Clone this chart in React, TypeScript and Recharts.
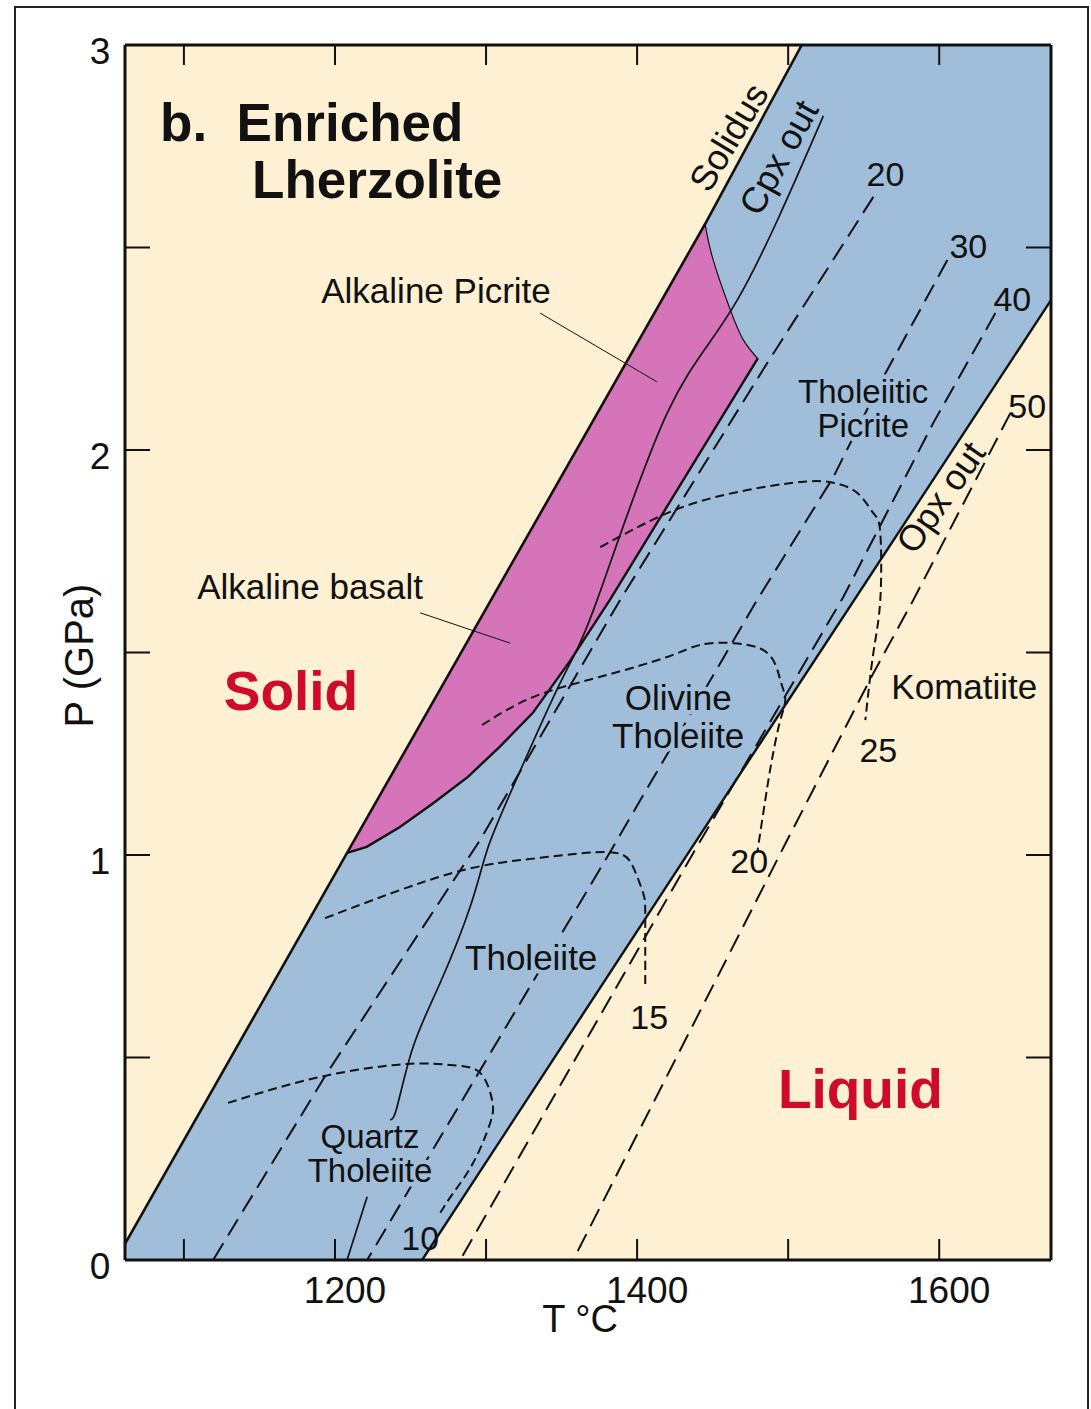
import React from "react";
import {
  ComposedChart,
  Area,
  Line,
  XAxis,
  YAxis,
  ReferenceArea,
  ReferenceDot,
} from "recharts";

const FONT = '"Liberation Sans", Arial, Helvetica, sans-serif';
const INK = "#111";
const CREAM = "#FEF0D2";
const BLUE = "#A0BED9";
const MAGENTA = "#D574B8";
const RED = "#CE0B2D";

// axes (T in °C, P in GPa)
const tDomain = [1061, 1674];
const pDomain = [0, 3];
const tTicks = [1100, 1200, 1300, 1400, 1500, 1600];
const tLabels = [1200, 1400, 1600];
const pTicks = [0, 0.5, 1, 1.5, 2, 2.5, 3];
const pLabels = [0, 1, 2, 3];

// melting field (between solidus and opx-out): [T, Plow, Phigh]
const meltField = [
  [1061, 0, 0.04],
  [1208, 0, 1.005],
  [1258, 0, 1.33],
  [1445, 1.07, 2.558],
  [1509, 1.43, 3.0],
  [1674, 2.37, 3.0],
];

// alkaline basalt / picrite field: [T, Plow, Phigh]
const alkalineField = [
  [1208, 1.005, 1.005],
  [1221, 1.02, 1.09],
  [1243, 1.069, 1.234],
  [1265, 1.128, 1.379],
  [1288, 1.193, 1.529],
  [1309, 1.267, 1.667],
  [1331, 1.351, 1.811],
  [1356, 1.481, 1.975],
  [1382, 1.63, 2.145],
  [1445, 2.015, 2.558],
  [1450, 2.046, 2.469],
  [1462, 2.12, 2.346],
  [1470, 2.169, 2.272],
  [1480, 2.227, 2.227],
];

// boundaries: [T, P]
const solidus = [
  [1061, 0.04],
  [1208, 1.005],
  [1445, 2.558],
  [1509, 3.0],
];
const opxOut = [
  [1257.7, 0],
  [1440, 1.04],
  [1674, 2.37],
];
const alkalineEdge = [
  [1208, 1.005],
  [1221, 1.02],
  [1243, 1.069],
  [1265, 1.128],
  [1288, 1.193],
  [1309, 1.267],
  [1331, 1.351],
  [1356, 1.481],
  [1382, 1.63],
  [1480, 2.227],
];
const picriteTop = [
  [1445, 2.558],
  [1450.4, 2.469],
  [1461.7, 2.346],
  [1470.3, 2.272],
  [1479.5, 2.227],
];
const cpxOutUpper = [
  [1523.3, 2.825],
  [1466.3, 2.37],
  [1419.9, 2.091],
  [1373.6, 1.63],
  [1349.1, 1.425],
  [1317.9, 1.168],
  [1300.7, 1.012],
  [1289.5, 0.872],
  [1269.6, 0.684],
  [1251.7, 0.526],
  [1241.1, 0.378],
  [1236.5, 0.346],
];
const cpxOutLower = [
  [1221.3, 0.156],
  [1208, 0],
];

// % melting isopleths
const melt20 = [
  [1556.4, 2.625],
  [1486.2, 2.215],
  [1388.8, 1.63],
  [1296.1, 1.037],
  [1194.8, 0.462],
  [1119.3, 0],
];
const melt30 = [
  [1605.4, 2.469],
  [1563, 2.18],
  [1529.9, 1.933],
  [1479.5, 1.63],
  [1380.2, 0.995],
  [1221.3, 0],
];
const melt40 = [
  [1637.2, 2.338],
  [1596.1, 2.067],
  [1536.5, 1.637],
  [1437.2, 1.005],
  [1282.9, 0],
];
const melt50 = [
  [1647.1, 2.091],
  [1582.9, 1.63],
  [1556.4, 1.449],
  [1499.4, 1.037],
  [1357.7, 0],
];

// liquid composition field limits
const dome10 = [
  [1129.2, 0.388],
  [1190.1, 0.452],
  [1247.8, 0.484],
  [1278.2, 0.481],
  [1296.1, 0.462],
  [1304, 0.395],
  [1302.7, 0.338],
  [1291.5, 0.24],
  [1278.2, 0.165],
  [1269.6, 0.116],
];
const dome15 = [
  [1193.4, 0.844],
  [1278.2, 0.956],
  [1335.8, 0.993],
  [1382.2, 1.007],
  [1397.4, 0.97],
  [1404, 0.906],
  [1405.4, 0.847],
  [1405.4, 0.674],
];
const dome20 = [
  [1297.4, 1.321],
  [1331.2, 1.39],
  [1375.6, 1.44],
  [1419.9, 1.489],
  [1441.8, 1.519],
  [1463.6, 1.523],
  [1486.2, 1.499],
  [1494.8, 1.432],
  [1498.1, 1.383],
  [1494.8, 1.333],
  [1490.1, 1.252],
  [1486.2, 1.168],
  [1479.5, 1.005],
];
const dome25 = [
  [1375.6, 1.76],
  [1419.9, 1.844],
  [1463.6, 1.894],
  [1508, 1.921],
  [1529.9, 1.919],
  [1545.8, 1.894],
  [1556.4, 1.844],
  [1561, 1.795],
  [1561, 1.63],
  [1556.4, 1.499],
  [1551.1, 1.333],
];

const picriteLeader = [
  [1335.8, 2.338],
  [1413.3, 2.168],
];
const basaltLeader = [
  [1256.4, 1.598],
  [1316, 1.523],
];

const pts = (arr: number[][]) => arr.map(([T, P]) => ({ T, P }));
const range = (arr: number[][]) => arr.map(([T, lo, hi]) => ({ T, r: [lo, hi] }));

type Note = {
  T: number;
  P: number;
  text: string;
  size?: number;
  weight?: number;
  color?: string;
  angle?: number;
  anchor?: string;
  gap?: number;
  halo?: string;
};

const notes: Note[] = [
  { T: 1084.2, P: 2.81, text: "b.  Enriched", size: 53, weight: 700, anchor: "start" },
  { T: 1145.1, P: 2.669, text: "Lherzolite", size: 53, weight: 700, anchor: "start" },
  { T: 1266.9, P: 2.395, text: "Alkaline Picrite" },
  { T: 1183.5, P: 1.664, text: "Alkaline basalt" },
  { T: 1170.9, P: 1.407, text: "Solid", size: 55, weight: 700, color: RED },
  { T: 1547.8, P: 0.425, text: "Liquid", size: 55, weight: 700, color: RED },
  { T: 1549.7, P: 2.104, text: "Tholeiitic\nPicrite", size: 33, gap: 34, halo: BLUE },
  { T: 1427.2, P: 1.343, text: "Olivine\nTholeiite", gap: 38, halo: BLUE },
  { T: 1329.9, P: 0.746, text: "Tholeiite", halo: BLUE },
  { T: 1223.2, P: 0.264, text: "Quartz\nTholeiite", size: 33, gap: 34, halo: BLUE },
  { T: 1616.6, P: 1.417, text: "Komatiite", halo: CREAM },
  { T: 1564.4, P: 2.681, text: "20", size: 34 },
  { T: 1619.3, P: 2.504, text: "30", size: 34 },
  { T: 1648.4, P: 2.373, text: "40", size: 34 },
  { T: 1658.3, P: 2.109, text: "50", size: 34 },
  { T: 1559.7, P: 1.259, text: "25", size: 34 },
  { T: 1474.2, P: 0.985, text: "20", size: 34 },
  { T: 1408, P: 0.6, text: "15", size: 34 },
  { T: 1256.4, P: 0.054, text: "10", size: 34 },
  { T: 1460.3, P: 2.773, text: "Solidus", size: 36, angle: -59 },
  { T: 1493.4, P: 2.723, text: "Cpx out", size: 36, angle: -61 },
  { T: 1600.7, P: 1.884, text: "Opx out", size: 36, angle: -55 },
];

const NoteText = (props: any) => {
  const { viewBox, note } = props;
  const { text, size = 35, weight = 400, color = INK, angle = 0, anchor = "middle", gap = 0, halo } = note as Note;
  const cx = viewBox.x + viewBox.width / 2;
  const cy = viewBox.y + viewBox.height / 2;
  const lines = text.split("\n");
  const top = cy - ((lines.length - 1) * gap) / 2 + size * 0.36;
  return (
    <text
      x={cx}
      y={top}
      fontSize={size}
      fontWeight={weight}
      fontFamily={FONT}
      fill={color}
      textAnchor={anchor}
      stroke={halo ?? "none"}
      strokeWidth={halo ? 9 : 0}
      strokeLinejoin="round"
      paintOrder="stroke"
      style={{ whiteSpace: "pre" }}
      transform={angle ? `rotate(${angle} ${cx} ${cy})` : undefined}
    >
      {lines.map((l, i) => (
        <tspan key={i} x={cx} dy={i === 0 ? 0 : gap}>
          {l}
        </tspan>
      ))}
    </text>
  );
};

const BottomTick = ({ x, y, payload }: any) => (
  <g>
    <line x1={x} y1={y} x2={x} y2={y - 21} stroke={INK} strokeWidth={2} />
    {tLabels.includes(payload.value) && (
      <text x={x + 10} y={y + 43} textAnchor="middle" fontSize={37} fontFamily={FONT} fill={INK}>
        {payload.value}
      </text>
    )}
  </g>
);

const TopTick = ({ x, y }: any) => (
  <line x1={x} y1={y} x2={x} y2={y + 20} stroke={INK} strokeWidth={2} />
);

const LeftTick = ({ x, y, payload }: any) => (
  <g>
    <line x1={x} y1={y} x2={x + 25} y2={y} stroke={INK} strokeWidth={2} />
    {pLabels.includes(payload.value) && (
      <text x={x - 25} y={y + 19} textAnchor="middle" fontSize={37} fontFamily={FONT} fill={INK}>
        {payload.value}
      </text>
    )}
  </g>
);

const RightTick = ({ x, y }: any) => (
  <line x1={x} y1={y} x2={x - 25} y2={y} stroke={INK} strokeWidth={2} />
);

const XTitle = ({ viewBox }: any) => (
  <text x={viewBox.x + 455} y={viewBox.y + 72} textAnchor="middle" fontSize={38} fontFamily={FONT} fill={INK}>
    T °C
  </text>
);

const YTitle = ({ viewBox }: any) => {
  const cx = viewBox.x + viewBox.width - 46;
  const cy = viewBox.y + viewBox.height / 2 + 3;
  return (
    <text
      x={cx}
      y={cy + 14}
      textAnchor="middle"
      fontSize={40}
      fontFamily={FONT}
      fill={INK}
      transform={`rotate(-90 ${cx} ${cy})`}
    >
      P (GPa)
    </text>
  );
};

const line = (data: number[][], width: number, dash?: string, curve: any = "linear") => ({
  data: pts(data),
  dataKey: "P",
  xAxisId: "b",
  yAxisId: "l",
  type: curve,
  stroke: INK,
  strokeWidth: width,
  strokeDasharray: dash,
  dot: false,
  activeDot: false,
  isAnimationActive: false,
});

const LONG = "19 9";
const SHORT = "9 5";

export default function App() {
  return (
    <div
      style={{
        position: "absolute",
        left: 0,
        top: 0,
        width: 1091,
        height: 1409,
        background: "#fff",
        overflow: "hidden",
      }}
    >
      <div
        style={{
          position: "absolute",
          left: 14,
          top: 6,
          width: 1071,
          height: 1500,
          border: "2px solid #222",
        }}
      />
      <div style={{ position: "absolute", left: 0, top: 0 }}>
        <ComposedChart
          width={1091}
          height={1409}
          margin={{ top: 44, right: 39, bottom: 148, left: 124 }}
        >
          <ReferenceArea
            xAxisId="b"
            yAxisId="l"
            x1={tDomain[0]}
            x2={tDomain[1]}
            y1={pDomain[0]}
            y2={pDomain[1]}
            fill={CREAM}
            fillOpacity={1}
            stroke="none"
          />
          <Area
            data={range(meltField)}
            dataKey="r"
            xAxisId="b"
            yAxisId="l"
            type="linear"
            fill={BLUE}
            fillOpacity={1}
            stroke="none"
            dot={false}
            activeDot={false}
            isAnimationActive={false}
          />
          <Area
            data={range(alkalineField)}
            dataKey="r"
            xAxisId="b"
            yAxisId="l"
            type="linear"
            fill={MAGENTA}
            fillOpacity={1}
            stroke="none"
            dot={false}
            activeDot={false}
            isAnimationActive={false}
          />

          <Line {...line(melt20, 2, LONG)} />
          <Line {...line(melt30, 2, LONG)} />
          <Line {...line(melt40, 2, LONG)} />
          <Line {...line(melt50, 2, LONG)} />
          <Line {...line(dome10, 2, SHORT, "natural")} />
          <Line {...line(dome15, 2, SHORT, "natural")} />
          <Line {...line(dome20, 2, SHORT, "natural")} />
          <Line {...line(dome25, 2, SHORT, "natural")} />

          <Line {...line(picriteTop, 1.2, undefined, "natural")} />
          <Line {...line(alkalineEdge, 2.4)} />
          <Line {...line(cpxOutUpper, 1.7, undefined, "natural")} />
          <Line {...line(cpxOutLower, 1.7)} />
          <Line {...line(solidus, 2.6)} />
          <Line {...line(opxOut, 2.4)} />
          <Line {...line(picriteLeader, 1)} />
          <Line {...line(basaltLeader, 1)} />

          {notes.map((n, i) => (
            <ReferenceDot
              key={i}
              xAxisId="b"
              yAxisId="l"
              x={n.T}
              y={n.P}
              r={0}
              fill="none"
              stroke="none"
              label={(p: any) => <NoteText {...p} note={n} />}
            />
          ))}

          <XAxis
            xAxisId="b"
            dataKey="T"
            type="number"
            domain={tDomain}
            allowDataOverflow
            ticks={tTicks}
            interval={0}
            height={1}
            tickSize={0}
            tickMargin={0}
            tickLine={false}
            tick={<BottomTick />}
            axisLine={{ stroke: INK, strokeWidth: 3 }}
            label={<XTitle />}
          />
          <XAxis
            xAxisId="t"
            orientation="top"
            dataKey="T"
            type="number"
            domain={tDomain}
            allowDataOverflow
            ticks={tTicks}
            interval={0}
            height={1}
            tickSize={0}
            tickMargin={0}
            tickLine={false}
            tick={<TopTick />}
            axisLine={{ stroke: INK, strokeWidth: 3 }}
          />
          <YAxis
            yAxisId="l"
            type="number"
            domain={pDomain}
            allowDataOverflow
            ticks={pTicks}
            interval={0}
            width={1}
            tickSize={0}
            tickMargin={0}
            tickLine={false}
            tick={<LeftTick />}
            axisLine={{ stroke: INK, strokeWidth: 3 }}
            label={<YTitle />}
          />
          <YAxis
            yAxisId="r"
            orientation="right"
            type="number"
            domain={pDomain}
            allowDataOverflow
            ticks={pTicks}
            interval={0}
            width={1}
            tickSize={0}
            tickMargin={0}
            tickLine={false}
            tick={<RightTick />}
            axisLine={{ stroke: INK, strokeWidth: 3 }}
          />
        </ComposedChart>
      </div>
    </div>
  );
}
